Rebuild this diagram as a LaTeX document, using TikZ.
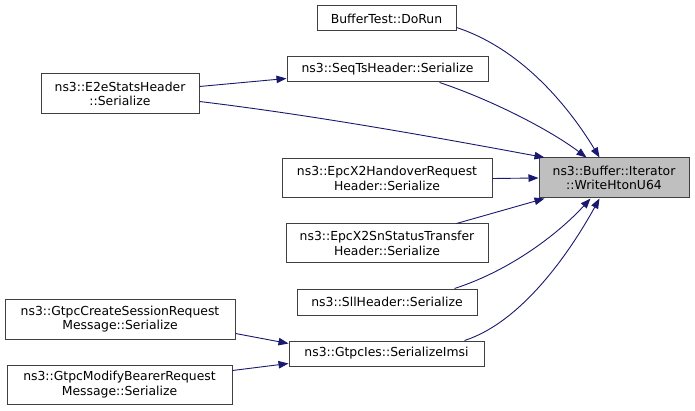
\documentclass[tikz,border=0pt]{standalone}
\usepackage{fontspec}
\setmainfont{DejaVu Sans}
\usetikzlibrary{arrows.meta,calc}
\definecolor{edgeblue}{HTML}{191970}
\definecolor{boxborder}{HTML}{404040}
\definecolor{hilite}{HTML}{BFBFBF}
\begin{document}
\begin{tikzpicture}[x=1pt,y=-1pt,
  fn/.style={draw=boxborder,line width=1pt,fill=white,rectangle,inner sep=0pt,align=center,
    font=\fontsize{12.4}{14.5}\selectfont,text=black},
  cur/.style={fn,fill=hilite},
  call/.style={draw=edgeblue,line width=0.9pt,-{Triangle[length=10pt,width=7.5pt]}}]
\useasboundingbox (0,0) rectangle (695,411);
\fill[white] (0,0) rectangle (695,411);
\node[fn,minimum width=139pt,minimum height=25pt] (dorun) at (386.5,18.5) {BufferTest::DoRun};
\node[fn,minimum width=201pt,minimum height=25pt] (seqts) at (387.5,69.5) {ns3::SeqTsHeader::Serialize};
\node[fn,minimum width=158pt,minimum height=40pt] (e2e) at (120,94) {ns3::E2eStatsHeader\\::Serialize};
\node[fn,minimum width=210pt,minimum height=39pt] (handover) at (387,178.5) {ns3::EpcX2HandoverRequest\\Header::Serialize};
\node[cur,minimum width=150pt,minimum height=40pt] (buffer) at (614,178) {ns3::Buffer::Iterator\\::WriteHtonU64};
\node[fn,minimum width=202pt,minimum height=39pt] (snstatus) at (387,243.5) {ns3::EpcX2SnStatusTransfer\\Header::Serialize};
\node[fn,minimum width=180pt,minimum height=26pt] (sll) at (387,302) {ns3::SllHeader::Serialize};
\node[fn,minimum width=195pt,minimum height=25pt] (imsi) at (386.5,353.5) {ns3::GtpcIes::SerializeImsi};
\node[fn,minimum width=230pt,minimum height=40pt] (create) at (120,319) {ns3::GtpcCreateSessionRequest\\Message::Serialize};
\node[fn,minimum width=225pt,minimum height=39pt] (modify) at (119.5,384.5) {ns3::GtpcModifyBearerRequest\\Message::Serialize};

\draw[call] ($(dorun.north east)+(0,22)$) .. controls (525,50) and (572,112) .. ($(buffer.north west)+(61,0)$);
\draw[call] ($(seqts.south west)+(153,0)$) .. controls (492,100) and (550,130) .. ($(buffer.north west)+(48,0)$);
\draw[call] ($(e2e.north east)+(0,28)$) .. controls (320,116) and (450,140) .. ($(buffer.north west)+(6,0)$);
\draw[call] ($(e2e.north east)+(0,13)$) -- ($(seqts.north west)+(0,22)$);
\draw[call] (handover.east) -- (buffer.west);
\draw[call] ($(snstatus.north west)+(171,0)$) -- ($(buffer.south west)+(6,0)$);
\draw[call] ($(sll.north west)+(158,0)$) .. controls (512,270) and (560,232) .. ($(buffer.south west)+(52,0)$);
\draw[call] ($(imsi.north west)+(176,0)$) .. controls (522,322) and (570,252) .. ($(buffer.south west)+(61,0)$);
\draw[call] ($(create.north east)+(0,35)$) -- ($(imsi.north west)+(0,3)$);
\draw[call] ($(modify.north east)+(0,6)$) -- ($(imsi.south west)+(0,-3)$);
\end{tikzpicture}
\end{document}
